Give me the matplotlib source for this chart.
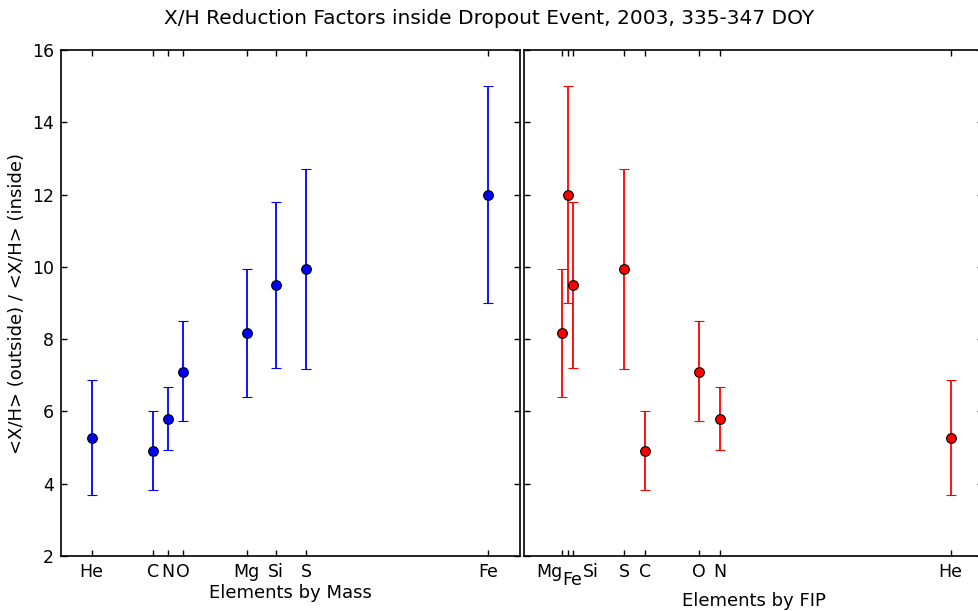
import numpy as np
import matplotlib
matplotlib.use('Agg')
import matplotlib.pyplot as plt
from matplotlib.transforms import ScaledTranslation

# ------------------------------------------------------------------
# Data
# ------------------------------------------------------------------
elements = ['He', 'C', 'N', 'O', 'Mg', 'Si', 'S', 'Fe']
mass     = [4.0, 12.0, 14.0, 16.0, 24.3, 28.1, 32.1, 55.8]
fip      = [24.59, 11.26, 14.53, 13.62, 7.65, 8.15, 10.36, 7.90]

ratio    = [5.27, 4.90, 5.80, 7.10, 8.17, 9.50, 9.93, 12.00]
err_lo   = [3.68, 3.82, 4.93, 5.73, 6.40, 7.20, 7.18, 9.00]
err_hi   = [6.87, 6.00, 6.68, 8.50, 9.95, 11.80, 12.70, 15.00]

ratio  = np.array(ratio)
yerr   = [ratio - np.array(err_lo), np.array(err_hi) - ratio]

# crowded FIP labels: (ha, dx in px, dy in px)
_FIP_LABEL_SHIFT = {'Mg': ('right', 1, 0), 'Fe': ('center', 5, -8),
                    'Si': ('left', 10, 0)}


def _style(ax):
    ax.tick_params(direction='in', top=True, right=True, length=4.5,
                   labelsize=12.5, width=1, pad=5)
    for sp in ax.spines.values():
        sp.set_linewidth(1.2)
    ax.set_ylim(2, 16)
    ax.set_yticks(np.arange(2, 17, 2))


fig = plt.figure(figsize=(9.79, 6.11), dpi=100)
ax1 = fig.add_axes([0.0623, 0.090, 0.4687, 0.828])
ax2 = fig.add_axes([0.5352, 0.090, 0.4690, 0.828])

kw = dict(fmt='o', mec='black', mew=0.8, ms=7, elinewidth=1.3,
          capsize=3.5, capthick=1.3)

# -- left panel : by mass --
ax1.errorbar(mass, ratio, yerr=yerr, color='blue', ecolor='blue', **kw)
_style(ax1)
ax1.set_xlim(0, 60)
ax1.set_xticks(mass)
ax1.set_xticklabels(elements)
ax1.set_xlabel('Elements by Mass', fontsize=13, labelpad=2)
ax1.set_ylabel('<X/H> (outside) / <X/H> (inside)', fontsize=13)

# -- right panel : by FIP --
ax2.errorbar(fip, ratio, yerr=yerr, color='red', ecolor='red', **kw)
_style(ax2)
ax2.set_xlim(6, 26)
ax2.set_xticks(fip)
ax2.set_xticklabels(elements)
ax2.tick_params(labelleft=False)
for lab in ax2.get_xticklabels():
    name = lab.get_text()
    if name in _FIP_LABEL_SHIFT:
        ha, dx, dy = _FIP_LABEL_SHIFT[name]
        lab.set_ha(ha)
        lab.set_transform(lab.get_transform() +
                          ScaledTranslation(dx / 100, dy / 100,
                                            fig.dpi_scale_trans))
ax2.set_xlabel('Elements by FIP', fontsize=13, labelpad=2)

fig.suptitle('X/H Reduction Factors inside Dropout Event, 2003, 335-347 DOY',
             fontsize=14.5, y=0.985)

fig.savefig('out.png', dpi=100)
